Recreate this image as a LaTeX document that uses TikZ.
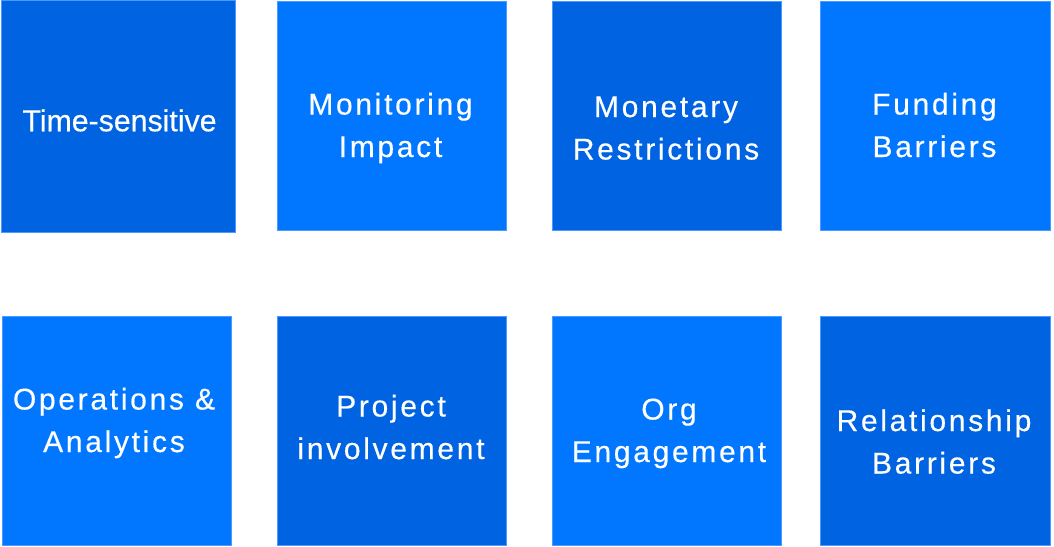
\documentclass[tikz,border=0pt]{standalone}
\usepackage{fontspec}
\setmainfont{Liberation Sans}[FakeBold=0.35]
\newfontfamily\spacedfont[LetterSpace=9,FakeBold=0.35]{Liberation Sans}
\definecolor{darkblue}{HTML}{0063E1}
\definecolor{brightblue}{HTML}{0077FE}
\definecolor{edgeblue}{HTML}{4A9AFF}
\newcommand\tline[1]{\smash{#1}\rule{0pt}{21.5pt}}
\begin{document}
\begin{tikzpicture}[x=1pt,y=-1pt,
  box/.style={rectangle,draw=edgeblue,line width=0.8pt,inner sep=0pt,outer sep=0pt,anchor=north west},
  darkbox/.style={box,fill=darkblue},
  brightbox/.style={box,fill=brightblue},
  label/.style={text=white,inner sep=0pt,align=center,anchor=center,font=\spacedfont\fontsize{30}{42.5}\selectfont},
  plainlabel/.style={label,font=\fontsize{30.3}{42}\selectfont}]
\useasboundingbox (0,0) rectangle (1054,546);
\fill[white] (0,0) rectangle (1054,546);
\node[darkbox,minimum width=234,minimum height=232] (b1) at (1,0) {};
\node[brightbox,minimum width=229,minimum height=229] (b2) at (277,1) {};
\node[darkbox,minimum width=229,minimum height=229] (b3) at (552,1) {};
\node[brightbox,minimum width=230,minimum height=229] (b4) at (820,1) {};
\node[brightbox,minimum width=229,minimum height=229] (b5) at (2,316) {};
\node[darkbox,minimum width=229,minimum height=229] (b6) at (277,316) {};
\node[brightbox,minimum width=229,minimum height=229] (b7) at (552,316) {};
\node[darkbox,minimum width=230,minimum height=229] (b8) at (820,316) {};
\node[plainlabel] (t1) at (119.5,120.5) {\tline{Time-sensitive}};
\node[label] (t2) at (390.5,125) {\tline{Monitoring}\\\tline{Impact}};
\node[label] (t3) at (666,127.5) {\tline{Monetary}\\\tline{Restrictions}};
\node[label] (t4) at (934.5,125) {\tline{Funding}\\\tline{Barriers}};
\node[label] (t5) at (114,420) {\tline{Operations \&}\\\tline{Analytics}};
\node[label] (t6) at (391,427) {\tline{Project}\\\tline{involvement}};
\node[label] (t7) at (669,430) {\tline{Org}\\\tline{Engagement}};
\node[label] (t8) at (934,441.5) {\tline{Relationship}\\\tline{Barriers}};
\end{tikzpicture}
\end{document}
